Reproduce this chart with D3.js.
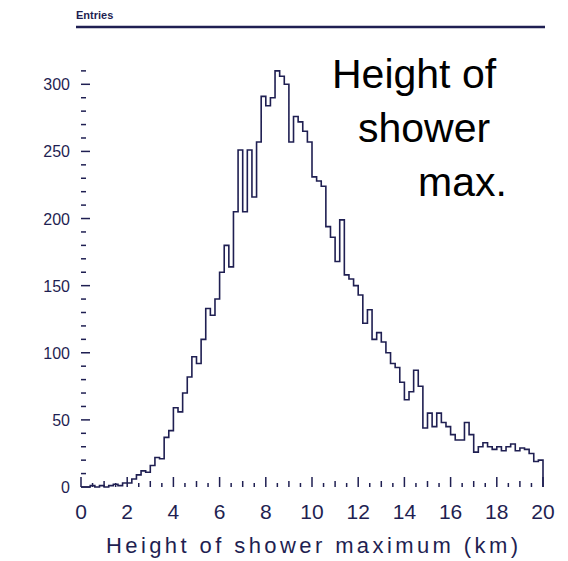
<!DOCTYPE html>
<html>
<head>
<meta charset="utf-8">
<script src="https://cdn.jsdelivr.net/npm/d3@7"></script>
<style>
  body { margin: 0; background: #fff; }
  text { font-family: "Liberation Sans", Arial, Helvetica, sans-serif; }
</style>
</head>
<body>
<script>
// histogram of shower max height, 100 bins of 0.2 km from 0 to 20
var binLow = 0, binHigh = 20;
var counts = [
  0, 0, 1, 0, 1, 0, 1, 2, 1, 3,
  3, 6, 9, 12, 11, 16, 22, 21, 37, 42,
  59, 56, 70, 82, 97, 92, 110, 133, 128, 140,
  160, 180, 164, 205, 251, 205, 251, 216, 257, 291,
  284, 290, 310, 306, 300, 257, 276, 272, 265, 257,
  231, 228, 224, 194, 186, 168, 199, 158, 155, 150,
  143, 122, 132, 110, 115, 108, 100, 92, 89, 78,
  65, 71, 87, 75, 44, 55, 45, 55, 48, 45,
  39, 35, 35, 48, 39, 26, 30, 33, 30, 28,
  30, 27, 30, 32, 27, 29, 28, 25, 19, 20
];
var xTickValues = [0, 2, 4, 6, 8, 10, 12, 14, 16, 18, 20];
var yTickValues = [0, 50, 100, 150, 200, 250, 300];
var titleText = "Entries";
var xTitle = "Height of shower maximum (km)";
var labelLines = ["Height of", "shower", "max."];

var width = 568, height = 561;
var navy = "#1f1f52";

var svg = d3.select("body").append("svg")
  .attr("width", width)
  .attr("height", height);

var x = d3.scaleLinear().domain([binLow, binHigh]).range([81, 543]);
var y = d3.scaleLinear().domain([0, 333]).range([487, 40]);

var binWidth = (binHigh - binLow) / counts.length;

// step outline
var pts = [[binLow, 0]];
counts.forEach(function(c, i) {
  pts.push([binLow + i * binWidth, c]);
  pts.push([binLow + (i + 1) * binWidth, c]);
});
pts.push([binHigh, 0]);

var line = d3.line()
  .x(function(d) { return x(d[0]); })
  .y(function(d) { return y(d[1]); });

svg.append("path")
  .datum(pts)
  .attr("d", line)
  .attr("fill", "none")
  .attr("stroke", navy)
  .attr("stroke-width", 1.6);

// x axis: only ticks and labels, ticks pointing up
var xMinor = d3.range(binLow, binHigh + 0.01, 0.5);
svg.append("g").selectAll("line")
  .data(xMinor)
  .enter().append("line")
  .attr("x1", function(d) { return x(d); })
  .attr("x2", function(d) { return x(d); })
  .attr("y1", 487)
  .attr("y2", function(d) { return d % 2 === 0 ? 477 : (d % 1 === 0 ? 481 : 483); })
  .attr("stroke", navy)
  .attr("stroke-width", 1.5);

svg.append("g").selectAll("text")
  .data(xTickValues)
  .enter().append("text")
  .attr("x", function(d) { return x(d); })
  .attr("y", 519)
  .attr("text-anchor", "middle")
  .attr("font-size", 21)
  .attr("fill", navy)
  .text(function(d) { return d; });

// y axis: ticks pointing right
var yMinor = d3.range(0, 311, 10);
svg.append("g").selectAll("line")
  .data(yMinor)
  .enter().append("line")
  .attr("x1", 81)
  .attr("x2", function(d) { return d % 50 === 0 ? 90 : 86; })
  .attr("y1", function(d) { return y(d); })
  .attr("y2", function(d) { return y(d); })
  .attr("stroke", navy)
  .attr("stroke-width", 1.5);

svg.append("g").selectAll("text")
  .data(yTickValues)
  .enter().append("text")
  .attr("x", 70)
  .attr("y", function(d) { return y(d) + 6; })
  .attr("text-anchor", "end")
  .attr("font-size", 16)
  .attr("fill", navy)
  .text(function(d) { return d; });

svg.append("text")
  .attr("x", 312)
  .attr("y", 553)
  .attr("text-anchor", "middle")
  .attr("font-size", 22)
  .attr("textLength", 412)
  .attr("lengthAdjust", "spacing")
  .attr("fill", navy)
  .text(xTitle);

// title pave
svg.append("text")
  .attr("x", 76)
  .attr("y", 19)
  .attr("font-size", 11)
  .attr("font-weight", "bold")
  .attr("fill", navy)
  .text(titleText);

svg.append("line")
  .attr("x1", 76).attr("x2", 545)
  .attr("y1", 27).attr("y2", 27)
  .attr("stroke", navy)
  .attr("stroke-width", 2.5);

// big label
var labelX = [332, 358, 418];
svg.append("g").selectAll("text")
  .data(labelLines)
  .enter().append("text")
  .attr("x", function(d, i) { return labelX[i]; })
  .attr("y", function(d, i) { return 88 + i * 54; })
  .attr("font-size", 41)
  .attr("fill", "#000")
  .text(function(d) { return d; });
</script>
</body>
</html>
